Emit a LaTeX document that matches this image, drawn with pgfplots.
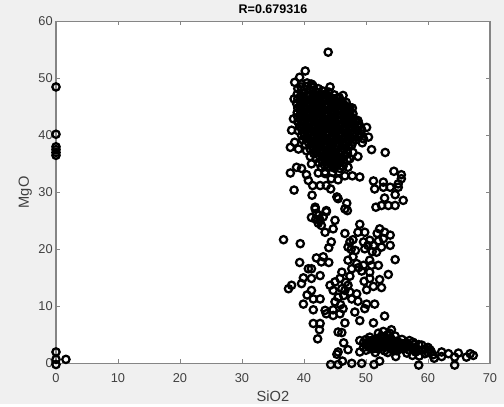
\documentclass[border=0pt]{standalone}
\usepackage{fontspec}
\setmainfont{Liberation Sans}
\usepackage{pgfplots}
\pgfplotsset{compat=1.18}
\definecolor{panel}{HTML}{F0F0F0}
\definecolor{axgray}{HTML}{858585}
\definecolor{txt}{HTML}{404040}
\begin{document}
\begin{tikzpicture}
\fill[panel] (0pt,0pt) rectangle (378pt,303pt);
\begin{axis}[
  at={(42pt,30.75pt)},anchor=south west,
  scale only axis,width=325.5pt,height=256.5pt,
  xmin=0,xmax=70,ymin=0,ymax=60,
  xtick={0,10,...,70},ytick={0,10,...,60},
  axis background/.style={fill=white},
  axis line style={axgray,line width=1.1pt},
  tick style={axgray,line width=0.6pt},
  major tick length=3pt,
  tick align=inside,
  clip=false,
  /pgf/number format/assume math mode=true,
  tick label style={font=\fontsize{9.6}{11}\selectfont,text=txt},
  xticklabel style={yshift=-4pt},
  yticklabel style={xshift=1pt},
  title={\textbf{R=0.679316}},
  title style={font=\fontsize{9.4}{11}\selectfont,text=black,yshift=-3.5pt},
  xlabel={SiO2},ylabel={MgO},
  xlabel style={font=\fontsize{11}{12}\selectfont,text=txt,yshift=0.5pt},
  ylabel style={font=\fontsize{11}{12}\selectfont,text=txt,yshift=-2pt},
]
\addplot[only marks,mark=o,mark size=2.75pt,mark options={line width=1.7pt,black,fill=none}] coordinates {
(0,48.5)(0,40.2)(0,38)(0,37.5)(0,37)(0,36.5)(0,2)(0,0.7)(0,-0.2)(1.6,0.7)
(43.9,54.6)(40.2,51.3)(39.3,50.2)(38.5,49.3)(41.2,49)(44.2,48.5)(46.3,47)(38.4,46.4)(47.8,44.8)(38.3,42.9)
(50.1,41.4)(38,40.9)(48.7,42.6)(50.4,39.7)(38.5,38.8)(37.8,37.9)(39.1,37.6)(50.9,37.5)(53.1,37)(40.4,37.3)
(41,36.3)(48.7,36.3)(47.9,37)(47.4,35.9)(41.2,35)(47.1,34.4)(38.8,34.4)(39.6,34.2)(37.8,33.4)(40.4,33.1)
(42.3,33.4)(49,32.7)(47.8,32.9)(46.6,32.9)(45.5,32.2)(44.4,32.4)(43.4,33.3)(51.2,32)(52.8,31.8)(54.5,33.7)
(55.7,33.1)(55.7,32.4)(55.2,31.5)(53.9,30.9)(52.8,30.9)(51.4,30.6)(55.2,30.9)(54.7,29.6)(56,28.6)(53,29)
(38.4,30.4)(41.3,29.5)(40.7,32.1)(41.4,31.2)(42.6,31.2)(43.6,31.2)(44.3,30.6)(45.3,29.2)(45.5,28.9)(46.9,28.1)
(41.8,27.4)(43.6,26.8)(46.6,27.1)(51.6,27.4)(52.5,27.7)(53.6,27.7)(54.7,27.7)
(39.6,49)(40.5,49.2)(41.4,48.8)(42.3,48.2)(39,48.2)(40,48.1)(41,48)(42,47.6)(43,47.8)(44,47.6)
(38.9,47.2)(39.9,47.3)(40.9,47.1)(41.9,46.9)(42.9,47)(43.9,46.9)(44.9,47.1)(45.7,46.6)
(39,46.4)(40,46.5)(41,46.3)(42,46.2)(43,46.4)(44,46.1)(45,46.2)(46,45.9)(46.8,45.8)
(38.8,45.6)(39.8,45.7)(40.8,45.5)(41.8,45.4)(42.8,45.6)(43.8,45.3)(44.8,45.5)(45.8,45.2)(46.8,45.1)(47.4,44.9)
(39,44.8)(40,44.9)(41,44.7)(42,44.6)(43,44.8)(44,44.5)(45,44.7)(46,44.4)(47,44.3)
(38.9,44)(39.9,44.1)(40.9,43.9)(41.9,43.8)(42.9,44)(43.9,43.7)(44.9,43.9)(45.9,43.6)(46.9,43.6)(47.9,43.8)
(39,43.2)(40,43.3)(41,43.1)(42,43)(43,43.2)(44,42.9)(45,43.1)(46,42.8)(47,42.8)(48,43)
(39,42.4)(40,42.5)(41,42.3)(42,42.2)(43,42.4)(44,42.1)(45,42.3)(46,42)(47,42)(48,42.1)(48.9,41.9)
(39.3,41.6)(40.3,41.7)(41.3,41.5)(42.3,41.4)(43.3,41.6)(44.3,41.3)(45.3,41.5)(46.3,41.2)(47.3,41.2)(48.3,41.3)(49.3,41)
(39.1,40.8)(40.1,40.9)(41.1,40.7)(42.1,40.6)(43.1,40.8)(44.1,40.5)(45.1,40.7)(46.1,40.4)(47.1,40.4)(48.1,40.5)(49.2,40.3)
(39.6,40)(40.6,40.1)(41.6,39.9)(42.6,39.8)(43.6,40)(44.6,39.7)(45.6,39.9)(46.6,39.6)(47.6,39.6)(48.8,39.7)(49.6,39.4)
(39.8,39.2)(40.8,39.3)(41.8,39.1)(42.8,39)(43.8,39.2)(44.8,38.9)(45.8,39.1)(46.8,38.8)(47.8,38.8)(49.4,38.7)
(40.2,38.4)(41.2,38.5)(42.2,38.3)(43.2,38.2)(44.2,38.4)(45.2,38.1)(46.2,38.3)(47.2,38.1)
(41,37.6)(42,37.7)(43,37.5)(44,37.4)(45,37.6)(46,37.3)(47,37.4)
(41.6,36.8)(42.6,36.9)(43.6,36.7)(44.6,36.6)(45.6,36.8)(46.6,36.5)
(42,36)(43,36.1)(44,35.9)(45,35.8)(46,36)(47,35.7)
(42.4,35.2)(43.4,35.3)(44.4,35.1)(45.4,35)(46.4,35.2)
(42.8,34.4)(43.8,34.5)(44.8,34.3)(45.8,34.2)
(43.4,33.6)(44.6,33.5)(45.6,33.6)
(39.5,48.5)(40.5,48.6)(41.5,48.4)(42.5,47.2)(43.5,47.3)(39.4,46.8)(40.4,46.9)(41.4,46.7)(42.4,46.6)(43.4,46.7)(44.4,46.6)(45.4,46.6)
(39.4,46)(40.4,46.1)(41.4,45.9)(42.4,45.8)(43.4,46)(44.4,45.7)(45.4,45.8)(46.4,45.5)
(39.4,45.2)(40.4,45.3)(41.4,45.1)(42.4,45)(43.4,45.2)(44.4,44.9)(45.4,45.1)(46.4,44.8)(47.2,44.6)
(39.4,44.4)(40.4,44.5)(41.4,44.3)(42.4,44.2)(43.4,44.4)(44.4,44.1)(45.4,44.3)(46.4,44)(47.4,44)
(39.4,43.6)(40.4,43.7)(41.4,43.5)(42.4,43.4)(43.4,43.6)(44.4,43.3)(45.4,43.5)(46.4,43.2)(47.4,43.3)
(39.5,42.8)(40.5,42.9)(41.5,42.7)(42.5,42.6)(43.5,42.8)(44.5,42.5)(45.5,42.7)(46.5,42.4)(47.5,42.5)(48.4,42.4)
(39.7,42)(40.7,42.1)(41.7,41.9)(42.7,41.8)(43.7,42)(44.7,41.7)(45.7,41.9)(46.7,41.6)(47.7,41.6)(48.7,41.6)
(39.6,41.2)(40.6,41.3)(41.6,41.1)(42.6,41)(43.6,41.2)(44.6,40.9)(45.6,41.1)(46.6,40.8)(47.6,40.8)(48.6,40.9)
(40,40.4)(41,40.5)(42,40.3)(43,40.2)(44,40.4)(45,40.1)(46,40.3)(47,40)(48,40.1)(49,40)
(40.3,39.6)(41.3,39.7)(42.3,39.5)(43.3,39.4)(44.3,39.6)(45.3,39.3)(46.3,39.5)(47.3,39.2)(48.3,39.2)
(40.7,38.8)(41.7,38.9)(42.7,38.7)(43.7,38.6)(44.7,38.8)(45.7,38.5)(46.7,38.6)(47.7,38.3)
(41.5,38)(42.5,38.1)(43.5,37.9)(44.5,37.8)(45.5,38)(46.5,37.7)
(42.1,37.2)(43.1,37.3)(44.1,37.1)(45.1,37)(46.1,37.2)(47,36.9)
(42.5,36.4)(43.5,36.5)(44.5,36.3)(45.5,36.2)(46.5,36.4)
(42.9,35.6)(43.9,35.7)(44.9,35.5)(45.9,35.4)(43.3,34.8)(44.3,34.9)(45.3,34.7)(46.3,34.6)
(36.7,21.7)(39.4,21)(39.3,17.7)(37.5,13.1)(38,13.7)(39.9,10.4)(39.6,14)(39.9,15)(40.7,16.6)(41.2,16.6)
(41.2,14.9)(42,18.5)(43.1,18.7)(42.8,17.8)(44,17.7)(42.6,15.4)(40.5,12)(41.2,12.8)(41.5,11.3)(42.6,11.3)
(41.5,9.4)(43.4,9.3)(43.6,8.7)(44.7,9.4)(44.7,8.4)(45.8,8.7)(46.3,9.6)(41.5,7)(42.6,7)(42.5,5.9)
(42.2,4.3)(41.8,27.1)(41.2,25.6)(42,26.3)(42.6,25.1)(43.1,25.7)(43.6,26.6)(42.8,24.2)(43.4,23)(45,25.1)
(44.7,23.6)(44.4,21.3)(44,20.3)(46.6,22.8)(47,26.8)(49,24.4)(48.7,23)(49.8,23)(47.4,21.3)(47.9,21.7)
(47.1,20.4)(49.6,21.3)(49.8,20.1)(50.6,21.6)(51.2,20.7)(52.2,23.6)(53,23)(53.9,22.5)(51.8,22.8)(52.8,21.9)
(53.9,20.7)(52.5,20.4)(51.7,19.5)(54.7,18.2)(50.6,18.1)(52,17.2)(50.9,17.2)(49.6,17.2)(47.1,18.1)(47.9,18.7)
(47.7,16.6)(48.5,17.5)(53.6,15.6)(50.6,16)(49.3,16.2)(46.1,16)(45.8,14.9)(47.4,15.3)(52.2,14.7)(49.7,14.4)
(50.6,14.9)(51.2,13.5)(52.5,13.3)(50.1,12.9)(45,14.3)(44.2,13.7)(44.7,12.8)(46.1,13.1)(47.1,13.7)(46.6,12.8)
(47.4,12.5)(48.5,12.2)(45.5,11.6)(45,10.8)(47.7,11.3)(48.7,10.9)(51.4,10.4)(50.1,10.4)(49.8,9.6)(48.2,9)
(53,8.3)(49,7.5)(46.6,7.1)(51.2,7.1)(45.5,5.5)(46.1,5.4)(46.4,3.6)(47.1,2.4)(45.5,2)(45.3,1.6)
(44.3,-0.2)(45.5,-0.2)(46.2,0.4)(47.7,0)(49.3,0)(51.3,-0.2)(52.2,0.4)(54.1,5.9)
(41.9,25.3)(42.3,24.6)(42.4,26)(47.6,20)(48.3,19.8)(50.3,20.7)(52,21.5)(51,19.6)(48.8,16.8)(46.7,14.2)(46.4,11.9)(45.9,10.3)
(49,4)(49,2)(50,4.2)(50,3.3)(50,2.3)(50.6,4.6)(51,3.5)(51,2.5)(51.5,1.9)(52,5.3)(52,4.4)(52,3.4)(52,2.5)
(52.8,5.6)(53,4.7)(53,3.7)(53,2.8)(53.5,1.9)(53.8,5.3)(54,4.4)(54,3.4)(54,2.5)(54.7,4.8)(55,3.9)(55,3)(55,2.2)
(54.8,1.2)(55.8,4.2)(56,3.4)(56,2.5)(56.6,1.8)(57,4)(57,3.1)(57,2.3)(57.5,1.4)(57.6,3.7)(58,2.8)(58,2)
(58.6,1.3)(59,3.2)(59.2,2.4)(59.5,1.7)(60,2.8)(60,1.9)(60.8,1.5)(61,0.9)(62.2,2)(62.2,1.2)(63.3,1.7)
(64.3,1.1)(64.9,1.8)(66.2,1.1)(66.8,1.7)(67.3,1.4)(64.3,-0.3)(58.5,-0.3)(60.5,2.1)
(50.5,3.8)(50.5,2.8)(51.5,4.2)(51.5,3)(52.5,4.8)(52.5,3.9)(52.5,2.9)(53.5,5)(53.5,4.1)(53.5,3.2)(53,2.2)(54.5,3.9)(54.5,3)(54.5,2.2)
(55.5,3.6)(55.5,2.7)(56.5,3.6)(56.5,2.8)(58.5,3.3)(58.5,2.3)(59.6,2.5)(60.3,2.4)
(49.6,3.6)(49.6,2.8)(50.3,3.1)(50.9,4)(50.8,3)(51.3,3.7)(51.8,3.8)(51.8,2.9)(52.3,3.3)(52.8,3.3)(53.2,4.2)(53.2,3.4)(53.8,3.7)(53.8,2.9)(54.3,3.6)(54.3,2.7)(54.8,3.4)(55.3,3.3)(55.2,2.6)(55.8,3)(56.3,3.2)(56.8,3.3)(57.3,2.8)(57.8,3.3)(57.8,2.4)
};
\end{axis}
\end{tikzpicture}
\end{document}
